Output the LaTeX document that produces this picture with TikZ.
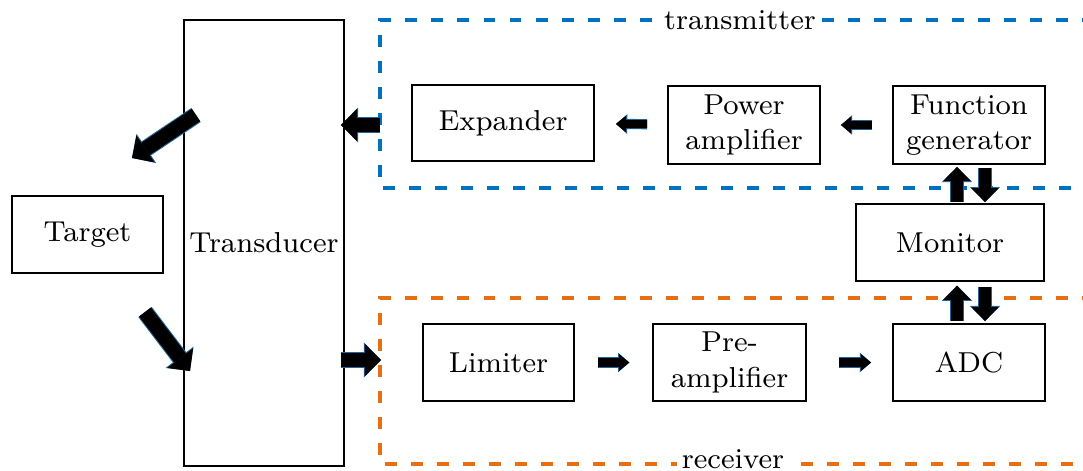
\documentclass[tikz,border=0pt]{standalone}
\usetikzlibrary{arrows.meta,calc}
\definecolor{txblue}{RGB}{0,112,192}
\definecolor{rxorange}{RGB}{232,110,20}
\definecolor{arrblue}{RGB}{30,100,150}
\begin{document}
\begin{tikzpicture}[x=0.01cm,y=-0.01cm,
  box/.style={draw,line width=0.45pt,inner sep=0pt,align=center,font=\fontsize{8.2}{10}\selectfont},
  lbl/.style={fill=white,inner sep=1.5pt,font=\fontsize{8.2}{10}\selectfont},
  grp/.style={line width=1pt,dash pattern=on 3.4pt off 4pt},
  bigarr/.style={line width=4.2pt,-{Triangle[length=4.6pt,width=9.2pt,line width=0pt]},
    preaction={draw=arrblue,line width=4.8pt,-{Triangle[length=4.9pt,width=10pt,line width=0pt]}}},
  varr/.style={line width=3.4pt,-{Triangle[length=4pt,width=7.8pt,line width=0pt]},
    preaction={draw=arrblue,line width=4pt,-{Triangle[length=4.3pt,width=8.6pt,line width=0pt]}}},
  smallarr/.style={line width=2.3pt,-{Triangle[length=2.9pt,width=4.8pt,line width=0pt]},
    preaction={draw=arrblue,line width=2.9pt,-{Triangle[length=3.2pt,width=5.6pt,line width=0pt]}}}
]
\useasboundingbox (0,0) rectangle (1083,470);

% groups
\draw[grp,txblue] (1120,20) -- (380,20) -- (380,188) -- (1120,188);
\node[lbl] (txl) at (740,20) {transmitter};
\draw[grp,rxorange] (1120,298) -- (380,298) -- (380,464) -- (1120,464);
\node[lbl] (rxl) at (733,459) {receiver};

% boxes
\node[box,minimum width=1.51cm,minimum height=0.77cm] (target) at (87.5,234.5) {Target};
\node[box,minimum width=1.60cm,minimum height=4.46cm] (trans) at (264,243) {Transducer};
\node[box,minimum width=1.82cm,minimum height=0.76cm] (exp) at (503,123) {Expander};
\node[box,minimum width=1.52cm,minimum height=0.78cm] (pa) at (744,125) {Power\\amplifier};
\node[box,minimum width=1.52cm,minimum height=0.78cm] (fg) at (969,125) {Function\\generator};
\node[box,minimum width=1.88cm,minimum height=0.77cm] (mon) at (950,242.5) {Monitor};
\node[box,minimum width=1.51cm,minimum height=0.77cm] (lim) at (498.5,362.5) {Limiter};
\node[box,minimum width=1.53cm,minimum height=0.77cm] (pre) at (729.5,362.5) {Pre-\\amplifier};
\node[box,minimum width=1.52cm,minimum height=0.77cm] (adc) at (969,362.5) {ADC};

% coordinates
\coordinate (txin) at (380,125);
\coordinate (rxin) at (381,360);
\coordinate (d1s) at (196,115);
\coordinate (d1e) at (132,158);
\coordinate (d2s) at (145,312);
\coordinate (d2e) at (190,371);
\coordinate (cu) at (957,0);
\coordinate (cd) at (985,0);

% arrows
\draw[bigarr,shorten >=-1.1pt] (txin) -- (trans.east |- txin);
\draw[bigarr,shorten <=-1.1pt] (trans.east |- rxin) -- (rxin);
\draw[bigarr] (d1s) -- (d1e);
\draw[bigarr] (d2s) -- (d2e);
\draw[smallarr,shorten <=5.7pt,shorten >=6pt] (pa) -- (exp);
\draw[smallarr,shorten <=5.7pt,shorten >=5.7pt] (fg) -- (pa);
\draw[smallarr,shorten <=6.5pt,shorten >=6.5pt] (lim) -- (pre);
\draw[smallarr,shorten <=9pt,shorten >=6pt] (pre) -- (adc);
\draw[varr,shorten <=0.3pt,shorten >=0.6pt] (mon.north -| cu) -- (fg.south -| cu);
\draw[varr,shorten <=0.8pt,shorten >=0.3pt] (fg.south -| cd) -- (mon.north -| cd);
\draw[varr,shorten <=0.6pt,shorten >=1.1pt] (adc.north -| cu) -- (mon.south -| cu);
\draw[varr,shorten <=1.4pt,shorten >=0.6pt] (mon.south -| cd) -- (adc.north -| cd);
\end{tikzpicture}
\end{document}
